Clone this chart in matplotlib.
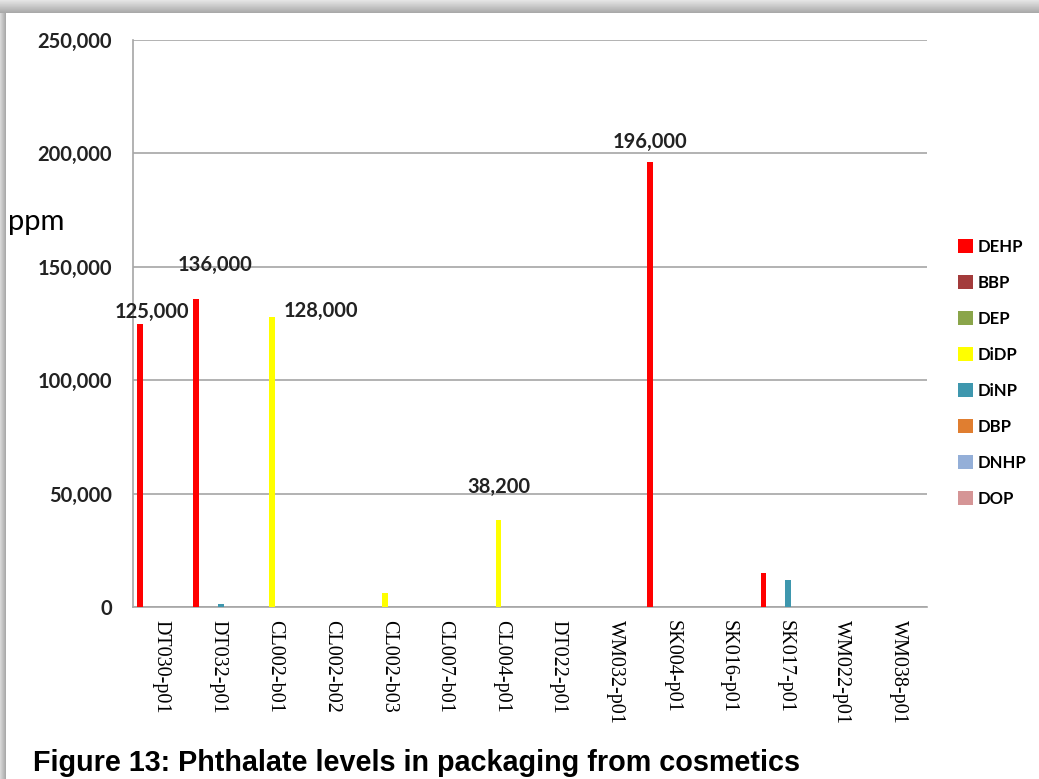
import matplotlib.pyplot as plt
import numpy as np

categories = ["DT030-p01", "DT032-p01", "CL002-b01", "CL002-b02", "CL002-b03",
              "CL007-b01", "CL004-p01", "DT022-p01", "WM032-p01", "SK004-p01",
              "SK016-p01", "SK017-p01", "WM022-p01", "WM038-p01"]
series = ["DEHP", "BBP", "DEP", "DiDP", "DiNP", "DBP", "DNHP", "DOP"]

dehp = [125000, 136000, 0, 0, 0, 0, 0, 0, 0, 196000, 0, 15000, 0, 0]
bbp = [0] * 14
dep = [0] * 14
didp = [0, 0, 128000, 0, 6000, 0, 38200, 0, 0, 0, 0, 0, 0, 0]
dinp = [0, 1300, 0, 0, 0, 0, 0, 0, 0, 0, 0, 12000, 0, 0]
dbp = [0] * 14
dnhp = [0] * 14
dop = [0] * 14

# (series, category, text) for the labelled bars
labels = [("DEHP", 0, "125,000"), ("DEHP", 1, "136,000"), ("DiDP", 2, "128,000"),
          ("DiDP", 6, "38,200"), ("DEHP", 9, "196,000")]
label_offsets = [(12, 12), (19, 34), (49, 6), (0, 33), (0, 21)]

colors = ["#FF0000", "#A33B3B", "#8AA54A", "#FFFF00", "#3E97AE", "#E07E30", "#94AFD8", "#D59596"]

values = [dehp, bbp, dep, didp, dinp, dbp, dnhp, dop]

fig = plt.figure(figsize=(10.39, 7.79), dpi=100)
fig.patch.set_facecolor("white")

# gray frame along the top and left edges
top_band = fig.add_axes([0, 1 - 13 / 779, 1, 13 / 779])
top_band.imshow(np.linspace(0.90, 0.66, 20).reshape(-1, 1), cmap="gray", vmin=0, vmax=1,
                aspect="auto", extent=[0, 1, 0, 1])
top_band.axis("off")
left_band = fig.add_axes([0, 0, 6 / 1039, 1 - 13 / 779])
left_band.imshow(np.linspace(0.85, 0.66, 10).reshape(1, -1), cmap="gray", vmin=0, vmax=1,
                 aspect="auto", extent=[0, 1, 0, 1])
left_band.axis("off")

ax = fig.add_axes([133 / 1039, 1 - 607 / 779, 794 / 1039, 567 / 779])

n = len(series)
slot = 0.875 / n
x = np.arange(len(categories))
for j, (name, vals, c) in enumerate(zip(series, values, colors)):
    ax.bar(x - 0.4375 + (j + 0.5) * slot, vals, width=slot * 0.95, color=c, label=name,
           zorder=3)

for (name, cat, text), (dx, dy) in zip(labels, label_offsets):
    j = series.index(name)
    xpos = cat - 0.4375 + (j + 0.5) * slot
    ax.annotate(text, xy=(xpos, values[j][cat]), xytext=(dx, dy), textcoords="offset pixels",
                ha="center", va="center", fontsize=14.5, fontfamily="Lato", fontweight="bold",
                color="#222222", zorder=4)

ax.set_xlim(-0.5, len(categories) - 0.5)
ax.set_ylim(0, 250000)
ax.set_yticks(range(0, 250001, 50000))
ax.set_yticklabels([f"{v:,}" for v in range(0, 250001, 50000)], fontfamily="Lato",
                   fontweight="bold", fontsize=14.5, color="#222222")
ax.set_xticks(x)
ax.set_xticklabels(categories, rotation=-90, fontfamily="Liberation Serif", fontsize=14.5,
                   va="top", ha="center")
ax.tick_params(axis="y", length=0, pad=15)
ax.tick_params(axis="x", length=0, pad=9)
ax.yaxis.grid(True, color="#A6A6A6", linewidth=1.2, zorder=0)
for side in ["top", "right"]:
    ax.spines[side].set_visible(False)
for side in ["left", "bottom"]:
    ax.spines[side].set_color("#A6A6A6")
    ax.spines[side].set_linewidth(1.2)

fig.text(8 / 1039, 1 - 222 / 779, "ppm", fontsize=21, fontfamily="Lato", va="center",
         ha="left")

leg = fig.legend(loc="upper left", bbox_to_anchor=(958 / 1039, 1 - 239 / 779), frameon=False,
                 prop={"family": "Lato", "weight": "bold", "size": 12},
                 handlelength=0.9, handleheight=0.9, handletextpad=0.25, labelspacing=1.2,
                 borderaxespad=0, borderpad=0)

fig.text(33 / 1039, 1 - 771 / 779, "Figure 13: Phthalate levels in packaging from cosmetics",
         fontsize=20.7, fontfamily="Liberation Sans", fontweight="bold", va="baseline",
         ha="left")

fig.savefig("out.png", dpi=100)
